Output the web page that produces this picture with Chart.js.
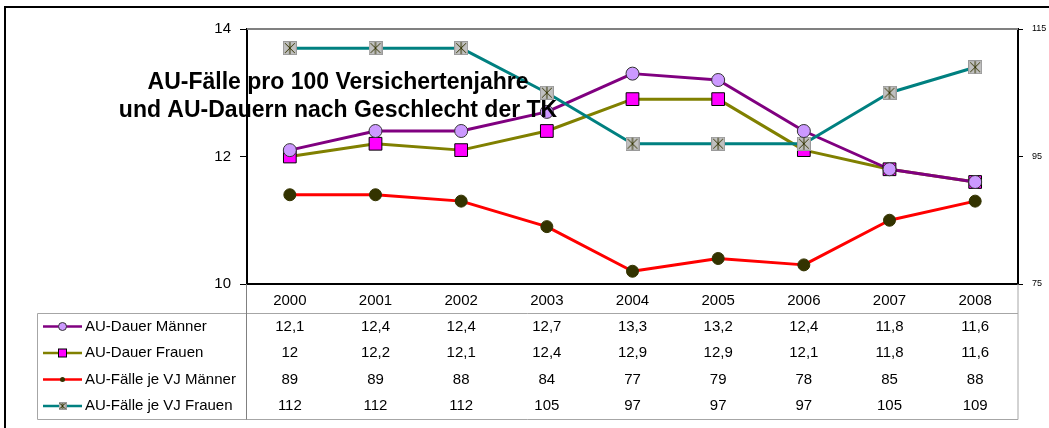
<!DOCTYPE html>
<html>
<head>
<meta charset="utf-8">
<script src="https://cdn.jsdelivr.net/npm/chart.js@4/dist/chart.umd.min.js"></script>
<style>
  html, body { margin:0; padding:0; background:#fff; }
  canvas { display:block; }
</style>
</head>
<body>
<canvas id="chart" width="1049" height="428"></canvas>
<script>
// ====== Daten ======
const years = ['2000','2001','2002','2003','2004','2005','2006','2007','2008'];
const auDauerMaenner  = [12.1, 12.4, 12.4, 12.7, 13.3, 13.2, 12.4, 11.8, 11.6];
const auDauerFrauen   = [12, 12.2, 12.1, 12.4, 12.9, 12.9, 12.1, 11.8, 11.6];
const auFaelleMaenner = [89, 89, 88, 84, 77, 79, 78, 85, 88];
const auFaelleFrauen  = [112, 112, 112, 105, 97, 97, 97, 105, 109];
const seriesNames = ['AU-Dauer Männer','AU-Dauer Frauen','AU-Fälle je VJ Männer','AU-Fälle je VJ Frauen'];
const titleLines = ['AU-Fälle pro 100 Versichertenjahre','und AU-Dauern nach Geschlecht der TK'];

const FONT = '"Liberation Sans", Arial, sans-serif';

// Stern-Marker (graues Quadrat mit Sternchen)
function starMarker(size){
  const c = document.createElement('canvas');
  c.width = size; c.height = size;
  const g = c.getContext('2d');
  g.fillStyle = '#c0c0c0'; g.fillRect(0,0,size,size);
  g.strokeStyle = '#9a9a9a'; g.lineWidth = 1; g.strokeRect(0.5,0.5,size-1,size-1);
  const m = size*0.15;
  g.strokeStyle = '#333300'; g.lineWidth = 1;
  g.beginPath();
  g.moveTo(m, m); g.lineTo(size-m, size-m);
  g.moveTo(size-m, m); g.lineTo(m, size-m);
  g.moveTo(size/2, 1); g.lineTo(size/2, size-1);
  g.stroke();
  return c;
}
const starBig = starMarker(14);

// Linien zuerst, Marker darüber (wie im Original)
const lineDs = (data, color, axis, order) => ({
  data, yAxisID: axis, order,
  borderColor: color, borderWidth: 3, borderJoinStyle: 'round',
  pointRadius: 0, pointHoverRadius: 0, fill: false, tension: 0
});
const pointDs = (data, axis, order, style) => ({
  data, yAxisID: axis, order, showLine: false,
  pointStyle: style.pointStyle, pointRadius: style.r, pointHoverRadius: style.r,
  pointBackgroundColor: style.bg, pointBorderColor: style.bd, pointBorderWidth: 1
});

const datasets = [
  lineDs(auFaelleMaenner, '#ff0000', 'y1', 8),
  lineDs(auDauerFrauen,   '#808000', 'y',  7),
  lineDs(auDauerMaenner,  '#800080', 'y',  6),
  lineDs(auFaelleFrauen,  '#008080', 'y1', 5),
  pointDs(auDauerFrauen,   'y',  4, { pointStyle:'rect',   r:9,   bg:'#ff00ff', bd:'#000' }),
  pointDs(auFaelleMaenner, 'y1', 3, { pointStyle:'circle', r:6,   bg:'#333300', bd:'#333300' }),
  pointDs(auFaelleFrauen,  'y1', 2, { pointStyle:starBig,  r:7,   bg:'#c0c0c0', bd:'#333300' }),
  pointDs(auDauerMaenner,  'y',  1, { pointStyle:'circle', r:6.5, bg:'#cc99ff', bd:'#333333' }),
];

// ====== Rahmen, Datentabelle, Titel ======
const framePlugin = {
  id: 'frame',
  beforeDraw(chart){
    const ctx = chart.ctx;
    ctx.save();
    ctx.fillStyle = '#fff';
    ctx.fillRect(0,0,chart.width,chart.height);
    ctx.strokeStyle = '#000'; ctx.lineWidth = 2;
    ctx.strokeRect(5, 7, chart.width + 20, chart.height + 20);
    ctx.restore();
  },
  afterDatasetsDraw(chart){
    const { ctx, chartArea: a } = chart;
    ctx.save();
    ctx.strokeStyle = '#808080'; ctx.lineWidth = 2;
    ctx.beginPath(); ctx.moveTo(a.left, a.top); ctx.lineTo(a.right, a.top); ctx.stroke();
    ctx.restore();
  }
};

const legendSample = [
  { color:'#800080', draw:(ctx,x,y)=>{ ctx.fillStyle='#cc99ff'; ctx.strokeStyle='#333'; ctx.lineWidth=1; ctx.beginPath(); ctx.arc(x,y,4,0,Math.PI*2); ctx.fill(); ctx.stroke(); } },
  { color:'#808000', draw:(ctx,x,y)=>{ ctx.fillStyle='#ff00ff'; ctx.strokeStyle='#000'; ctx.lineWidth=1; ctx.fillRect(x-4,y-4,8,8); ctx.strokeRect(x-4,y-4,8,8); } },
  { color:'#ff0000', draw:(ctx,x,y)=>{ ctx.fillStyle='#333300'; ctx.beginPath(); ctx.arc(x,y,2.5,0,Math.PI*2); ctx.fill(); } },
  { color:'#008080', draw:(ctx,x,y)=>{ ctx.drawImage(starMarker(8), x-4, y-4); } },
];
const tableRows = [auDauerMaenner, auDauerFrauen, auFaelleMaenner, auFaelleFrauen];

const tablePlugin = {
  id: 'table',
  afterDraw(chart){
    const { ctx, chartArea: a } = chart;
    const xs = chart.scales.x;
    const top = 313.5, bottom = 419.5, left = 37.5;
    const rowY0 = 326.5, rowH = 26.5;
    ctx.save();
    // Gitter der Tabelle
    ctx.lineWidth = 1;
    ctx.strokeStyle = '#a6a6a6';
    ctx.beginPath();
    ctx.moveTo(left, top); ctx.lineTo(a.right, top);
    ctx.moveTo(left, bottom); ctx.lineTo(a.right, bottom);
    ctx.moveTo(left, top); ctx.lineTo(left, bottom);
    ctx.moveTo(a.right, a.bottom); ctx.lineTo(a.right, bottom);
    ctx.stroke();
    ctx.strokeStyle = '#808080';
    ctx.beginPath(); ctx.moveTo(a.left - 0.5, a.bottom); ctx.lineTo(a.left - 0.5, bottom); ctx.stroke();

    // Legendenspalte + Werte
    ctx.font = '15px ' + FONT;
    ctx.textBaseline = 'middle';
    tableRows.forEach((row, r) => {
      const y = rowY0 + r*rowH;
      const s = legendSample[r];
      ctx.strokeStyle = s.color; ctx.lineWidth = 2.5;
      ctx.beginPath(); ctx.moveTo(43, y); ctx.lineTo(82, y); ctx.stroke();
      s.draw(ctx, 62.5, y);
      ctx.fillStyle = '#000'; ctx.textAlign = 'left';
      ctx.fillText(seriesNames[r], 85, y);
      ctx.textAlign = 'center';
      row.forEach((v, i) => ctx.fillText(String(v).replace('.', ','), xs.getPixelForValue(i), y));
    });

    // Titel liegt über allem
    ctx.font = 'bold 23px ' + FONT;
    ctx.textAlign = 'center'; ctx.textBaseline = 'alphabetic';
    ctx.fillStyle = '#000';
    ctx.fillText(titleLines[0], 338, 89);
    ctx.fillText(titleLines[1], 338, 117);
    ctx.restore();
  }
};

new Chart(document.getElementById('chart').getContext('2d'), {
  type: 'line',
  data: { labels: years, datasets },
  options: {
    responsive: false,
    animation: false,
    events: [],
    layout: { padding: { top: 29, left: 0, right: 0, bottom: 0 } },
    plugins: { legend: { display: false }, tooltip: { enabled: false }, title: { display: false } },
    scales: {
      x: {
        offset: true,
        grid: { display: false, drawTicks: false },
        border: { color: '#000', width: 2 },
        ticks: { color: '#000', padding: 8, font: { family: FONT, size: 15 } },
        afterFit: s => { s.height = 144; }
      },
      y: {
        position: 'left', min: 10, max: 14,
        ticks: { stepSize: 2, color: '#000', padding: 9, font: { family: FONT, size: 15 } },
        grid: { drawOnChartArea: false, tickLength: 7, color: '#000' },
        border: { color: '#000', width: 2 },
        afterFit: s => { s.width = 247; }
      },
      y1: {
        position: 'right', min: 75, max: 115,
        ticks: { stepSize: 20, color: '#000', padding: 9, font: { family: FONT, size: 9 } },
        grid: { drawOnChartArea: false, tickLength: 5, color: '#000' },
        border: { color: '#000', width: 2 },
        afterFit: s => { s.width = 31; }
      }
    }
  },
  plugins: [framePlugin, tablePlugin]
});
</script>
</body>
</html>
